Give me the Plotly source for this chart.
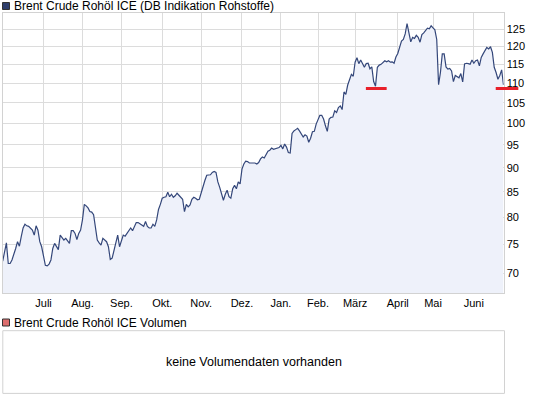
import math
import pandas as pd
import plotly.graph_objects as go

# ---------------- data ----------------
title_main = "Brent Crude Rohöl ICE (DB Indikation Rohstoffe)"
title_vol = "Brent Crude Rohöl ICE Volumen"
no_data_text = "keine Volumendaten vorhanden"

start_date = "2010-06-01"
end_date = "2011-06-23"
holidays = ["2010-07-05", "2010-08-30", "2010-12-27", "2010-12-28",
            "2011-01-03", "2011-04-22", "2011-04-25"]

month_labels = ["Juli", "Aug.", "Sep.", "Okt.", "Nov.", "Dez.",
                "Jan.", "Feb.", "März", "April", "Mai", "Juni"]
y_ticks = [70, 75, 80, 85, 90, 95, 100, 105, 110, 115, 120, 125]

# daily closing prices (USD/bbl), one per trading session
prices = [
    72.1, 73.7, 75.3, 71.7, 71.7, 72.3, 73.2, 74.3, 75.5, 74.7,
    76.4, 78.0, 78.7, 78.4, 78.3, 78.0, 77.6, 76.7, 78.4, 77.6,
    75.5, 74.6, 73.2, 71.4, 71.3, 71.6, 72.3, 74.3, 75.2, 74.6,
    74.1, 76.7, 76.2, 75.8, 76.1, 75.6, 75.2, 77.5, 77.5, 77.0,
    75.9, 77.0, 77.6, 79.5, 82.5, 82.2, 81.8, 81.1, 81.0, 80.5,
    78.3, 75.8, 75.3, 74.9, 76.1, 75.8, 75.5, 74.6, 72.4, 72.6,
    73.8, 75.3, 76.7, 74.6, 75.8, 76.7, 76.5, 77.0, 77.3, 78.0,
    77.5, 78.4, 79.0, 79.0, 78.8, 78.6, 78.3, 79.2, 78.3, 78.0,
    78.0, 78.7, 78.3, 79.5, 81.5, 82.5, 83.7, 83.9, 84.0, 84.9,
    84.0, 84.5, 83.9, 84.2, 84.7, 84.3, 83.9, 83.5, 81.1, 82.5,
    82.0, 82.4, 83.5, 83.9, 83.7, 83.4, 83.5, 84.9, 86.0, 87.3,
    88.4, 88.5, 88.5, 89.0, 89.2, 89.0, 87.0, 85.9, 84.5, 83.3,
    84.5, 85.3, 84.0, 83.7, 85.6, 86.3, 85.6, 87.0, 86.6, 89.7,
    90.8, 91.4, 91.3, 91.0, 91.0, 91.0, 91.0, 90.8, 91.1, 91.9,
    92.3, 92.1, 93.0, 93.6, 93.8, 94.3, 94.0, 94.1, 94.3, 94.4,
    94.9, 94.1, 95.2, 94.5, 93.3, 93.2, 97.6, 98.2, 98.5, 98.8,
    98.2, 97.6, 96.8, 97.3, 97.0, 95.6, 96.5, 98.0, 98.1, 99.8,
    101.0, 101.9, 101.9, 101.0, 99.4, 98.1, 101.0, 101.4, 101.5, 103.0,
    102.6, 103.8, 104.2, 103.3, 107.7, 107.1, 109.5, 111.0, 112.3, 111.8,
    115.6, 116.8, 115.2, 116.2, 115.1, 114.2, 115.2, 115.3, 113.8, 114.3,
    110.4, 109.2, 114.2, 114.8, 115.0, 115.5, 116.0, 115.7, 116.0, 115.6,
    115.7, 115.3, 117.0, 118.0, 119.7, 121.5, 122.0, 123.6, 126.7, 124.3,
    121.3, 122.6, 122.3, 123.2, 122.6, 121.2, 123.4, 123.9, 124.8, 125.3,
    125.1, 126.0, 125.4, 124.8, 122.0, 109.6, 112.8, 117.9, 117.9, 114.3,
    113.7, 113.9, 113.2, 110.4, 112.0, 111.6, 111.4, 112.5, 110.3, 115.1,
    115.3, 115.2, 115.0, 116.2, 115.3, 116.0, 116.2, 114.6, 116.9, 117.9,
    119.0, 119.7, 119.3, 119.9, 118.3, 114.2, 112.8, 111.0, 112.0, 113.5,
    109.5,
]

support_level = 108.6
support_marks = [("2011-03-08", "2011-03-24"), ("2011-06-16", "2011-07-01")]

# ---------------- calendar ----------------
sessions = pd.bdate_range(start_date, end_date).drop(pd.to_datetime(holidays))
assert len(sessions) == len(prices), (len(sessions), len(prices))
first_of_month = sessions.to_series().groupby(sessions.to_period("M")).first()
month_ticks = list(first_of_month.iloc[1:1 + len(month_labels)])

# ---------------- styling ----------------
W, H = 545, 398
FONT = "Liberation Sans, Arial, sans-serif"
LINE = "#34477A"
FILL = "#EEF1FA"
GRID = "#DCDCDC"
BORDER = "#D2D2D2"
RED = "#E8202A"


def px_x(p):
    return p / W


def px_y(p):
    return 1 - p / H


fig = go.Figure()
fig.add_trace(go.Scatter(
    x=sessions, y=prices, mode="lines",
    line=dict(color=LINE, width=1.2),
    fill="tozeroy", fillcolor=FILL,
    hoverinfo="x+y", showlegend=False,
))

shapes = []
annotations = []

# support marks (drawn as head-less arrows so they may run past the plot edge)
lvl = math.log10(support_level)
for d0, d1 in support_marks:
    annotations.append(dict(xref="x", yref="y", axref="x", ayref="y",
                            x=d1, y=lvl, ax=d0, ay=lvl,
                            text="", showarrow=True, arrowhead=0,
                            arrowwidth=3, arrowcolor=RED,
                            standoff=0, startstandoff=0))

# legend squares + labels
for ytop, fillc, label in [(2.5, "#2E3E6C", title_main), (319, "#DD6E6E", title_vol)]:
    shapes.append(dict(type="rect", xref="paper", yref="paper",
                       x0=px_x(2.5), x1=px_x(9.5),
                       y0=px_y(ytop + 7), y1=px_y(ytop),
                       fillcolor=fillc, line=dict(color="#333333", width=1)))
    annotations.append(dict(xref="paper", yref="paper",
                            x=px_x(12), y=px_y(ytop + 3.5),
                            xanchor="left", yanchor="middle",
                            text=label, showarrow=False,
                            font=dict(family=FONT, size=12, color="#000")))

# volume panel frame and message
shapes.append(dict(type="rect", xref="paper", yref="paper",
                   x0=px_x(2.8), x1=px_x(504.5),
                   y0=px_y(393.4), y1=px_y(330.7),
                   line=dict(color=BORDER, width=1), fillcolor="rgba(0,0,0,0)"))
annotations.append(dict(xref="paper", yref="paper",
                        x=px_x(253.5), y=px_y(361.7),
                        xanchor="center", yanchor="middle",
                        text=no_data_text, showarrow=False,
                        font=dict(family=FONT, size=12.5, color="#000")))

fig.update_layout(
    width=W, height=H,
    margin=dict(l=0, r=0, t=0, b=0),
    paper_bgcolor="white", plot_bgcolor="white",
    font=dict(family=FONT, size=11, color="#000"),
    showlegend=False,
    hovermode=False,
    shapes=shapes, annotations=annotations,
    xaxis=dict(
        domain=[px_x(2.7), px_x(503.5)],
        type="date",
        range=[sessions[0], sessions[-1]],
        rangebreaks=[dict(bounds=["sat", "mon"]), dict(values=holidays)],
        tickmode="array", tickvals=month_ticks, ticktext=month_labels,
        showgrid=True, gridcolor=GRID, gridwidth=1,
        showline=True, mirror=True, linecolor=BORDER, linewidth=1,
        ticks="", zeroline=False,
        tickfont=dict(family=FONT, size=11, color="#000"),
    ),
    yaxis=dict(
        domain=[px_y(293), px_y(13)],
        type="log",
        range=[math.log10(66.85), math.log10(129.9)],
        side="right",
        tickmode="array", tickvals=y_ticks, ticktext=[str(v) for v in y_ticks],
        showgrid=True, gridcolor=GRID, gridwidth=1,
        showline=True, mirror=True, linecolor=BORDER, linewidth=1,
        ticks="", zeroline=False,
        tickfont=dict(family=FONT, size=11, color="#000"),
    ),
)

fig.write_html("out.html",
               config={"displayModeBar": False, "staticPlot": True},
               post_script="document.body.style.margin='0';")
